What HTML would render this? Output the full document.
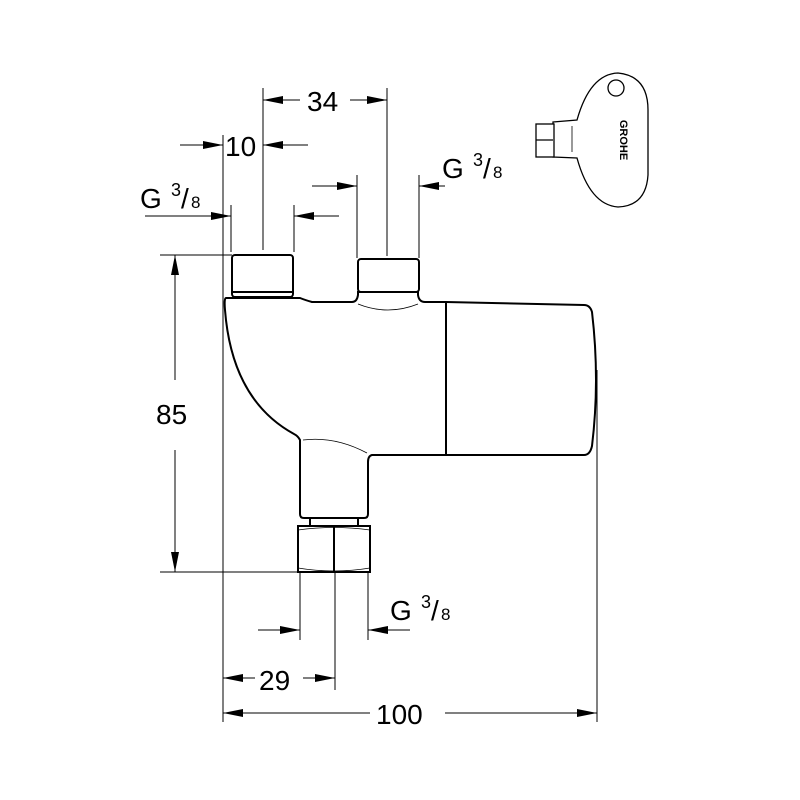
<!DOCTYPE html>
<html><head><style>body{margin:0;background:#fff}svg{display:block}text{font-family:"Liberation Sans",sans-serif;fill:#000}</style></head><body>
<svg width="800" height="800" viewBox="0 0 800 800" xmlns="http://www.w3.org/2000/svg">
<defs>
<marker id="a" viewBox="0 0 20 8" refX="20" refY="4" markerWidth="20" markerHeight="8" markerUnits="userSpaceOnUse" orient="auto"><path d="M0,0 L20,4 L0,8z" fill="#000"/></marker>
</defs>
<g stroke="#000" stroke-width="1" fill="none">
<line x1="223" y1="135" x2="223" y2="722"/>
<line x1="597" y1="370" x2="597" y2="722"/>
<line x1="263" y1="88" x2="263" y2="250"/>
<line x1="387" y1="88" x2="387" y2="256"/>
<line x1="231" y1="205" x2="231" y2="252"/>
<line x1="294" y1="205" x2="294" y2="252"/>
<line x1="357" y1="175" x2="357" y2="258"/>
<line x1="419" y1="175" x2="419" y2="258"/>
<line x1="160" y1="255" x2="232" y2="255"/>
<line x1="160" y1="572" x2="300" y2="572"/>
<line x1="300" y1="572" x2="300" y2="640"/>
<line x1="368" y1="572" x2="368" y2="640"/>
<line x1="335" y1="572" x2="335" y2="690"/>
<line x1="300" y1="100" x2="263" y2="100" marker-end="url(#a)"/>
<line x1="350" y1="100" x2="387" y2="100" marker-end="url(#a)"/>
<line x1="180" y1="145" x2="223" y2="145" marker-end="url(#a)"/>
<line x1="308" y1="145" x2="263" y2="145" marker-end="url(#a)"/>
<line x1="145" y1="216" x2="231" y2="216" marker-end="url(#a)"/>
<line x1="339" y1="216" x2="294" y2="216" marker-end="url(#a)"/>
<line x1="312" y1="186" x2="357" y2="186" marker-end="url(#a)"/>
<line x1="445" y1="186" x2="419" y2="186" marker-end="url(#a)"/>
<line x1="175" y1="380" x2="175" y2="255" marker-end="url(#a)"/>
<line x1="175" y1="450" x2="175" y2="572" marker-end="url(#a)"/>
<line x1="258" y1="630" x2="300" y2="630" marker-end="url(#a)"/>
<line x1="410" y1="630" x2="368" y2="630" marker-end="url(#a)"/>
<line x1="255" y1="678" x2="223" y2="678" marker-end="url(#a)"/>
<line x1="303" y1="678" x2="335" y2="678" marker-end="url(#a)"/>
<line x1="370" y1="713" x2="223" y2="713" marker-end="url(#a)"/>
<line x1="445" y1="713" x2="597" y2="713" marker-end="url(#a)"/>
</g>
<g stroke="#000" stroke-width="2" fill="#fff">
<path d="M226,298 L300,298 Q305,300 312,302 L352,302 Q357,302 358,295 L358,292 L418,292 L418,295 Q419,302 425,302 L446,302 L584,305 Q590,305 592,312 Q600,380 592,446 Q590,455 584,455 L446,455 L372,455 Q368,456 368,462 L368,514 Q368,518 364,518 L304,518 Q300,518 300,514 L300,440 Q298,436 294,434 Q232,400 225,310 Q224,298 226,298Z"/>
<line x1="446" y1="302" x2="446" y2="455"/>
<rect x="232" y="255" width="61" height="42" rx="3"/>
<line x1="232" y1="292" x2="293" y2="292"/>
<rect x="358" y="259" width="61" height="33" rx="3"/>
<rect x="298" y="526" width="72" height="46"/>
<line x1="334" y1="526" x2="334" y2="572"/>
<line x1="310" y1="518" x2="310" y2="526"/><line x1="358" y1="518" x2="358" y2="526"/>
</g>
<g stroke="#000" stroke-width="0.8" fill="none">
<path d="M358,304 Q388,316 418,304"/>
<path d="M303,440 Q335,436 367,453"/>
<path d="M298,530 Q334,525 370,530"/>
<path d="M298,568 Q334,574 370,568"/>
</g>
<g stroke="#000" stroke-width="1.3" fill="#fff">
<path d="M553,122 L577,120 Q590,74 618,73 Q648,76 648,110 L648,175 Q646,206 618,207 Q590,205 577,158 L553,157Z"/>
<rect x="536" y="124" width="18" height="33"/>
<line x1="536" y1="140" x2="553" y2="140"/>
<line x1="572" y1="126" x2="572" y2="152" stroke-width="0.8"/>
<circle cx="616" cy="88" r="8"/>
</g>
<text x="620" y="140" font-size="11" font-weight="bold" transform="rotate(90 620 140)" text-anchor="middle">GROHE</text>
<text x="307" y="111" font-size="28">34</text>
<text x="225" y="156" font-size="28">10</text>
<text x="140" y="208" font-size="28">G</text><text x="171" y="196" font-size="18">3</text><text x="181" y="208" font-size="28">/</text><text x="191" y="208" font-size="17">8</text>
<text x="442" y="178" font-size="28">G</text><text x="473" y="166" font-size="18">3</text><text x="483" y="178" font-size="28">/</text><text x="493" y="178" font-size="17">8</text>
<text x="390" y="620" font-size="28">G</text><text x="421" y="608" font-size="18">3</text><text x="431" y="620" font-size="28">/</text><text x="441" y="620" font-size="17">8</text>
<text x="156" y="424" font-size="28">85</text>
<text x="259" y="690" font-size="28">29</text>
<text x="376" y="724" font-size="28">100</text>
</svg>
</body></html>
